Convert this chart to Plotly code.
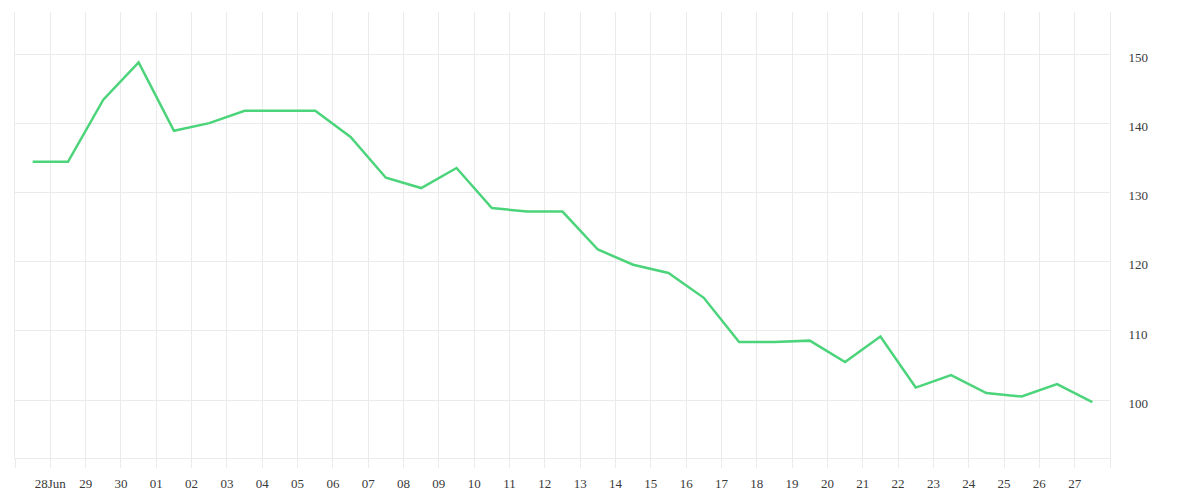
import plotly.graph_objects as go
import pandas as pd

# Data: one value per day (plotted at midday)
dates = pd.date_range("2023-06-27 12:00", "2023-07-27 12:00", freq="D")
values = [134.5, 134.5, 143.5, 148.9, 139.0, 140.1, 141.9, 141.9, 141.9, 138.1,
          132.2, 130.7, 133.6, 127.8, 127.3, 127.3, 121.8, 119.6, 118.4, 114.8,
          108.4, 108.4, 108.6, 105.5, 109.2, 101.8, 103.6, 101.0, 100.5, 102.3, 99.7]

tick_dates = pd.date_range("2023-06-27", "2023-07-28", freq="D")
tick_labels = ["", "28Jun"] + [d.strftime("%d") for d in tick_dates[2:-1]] + [""]
y_ticks = [100, 110, 120, 130, 140, 150]

grid = "#ebebeb"
font = dict(family="Liberation Serif, DejaVu Serif, serif", size=13, color="#3a3a3a")

fig = go.Figure()
fig.add_trace(go.Scatter(x=dates, y=values, mode="lines",
                         line=dict(color="#4cd47b", width=2.5), showlegend=False,
                         hoverinfo="x+y"))

fig.update_layout(
    width=1200, height=500,
    margin=dict(l=15, r=90, t=12, b=42),
    paper_bgcolor="white", plot_bgcolor="white",
    font=font,
    xaxis=dict(range=[tick_dates[0], tick_dates[-1]], tickmode="array",
               tickvals=tick_dates, ticktext=tick_labels,
               showgrid=True, gridcolor=grid, gridwidth=1,
               ticks="outside", ticklen=9, tickcolor=grid, tickwidth=1,
               showline=True, linecolor=grid, linewidth=1, automargin=False,
               zeroline=False, tickfont=font, ticklabelstandoff=4),
    yaxis=dict(range=[91.6, 156.2], side="right", tickmode="array",
               tickvals=y_ticks, showgrid=True, gridcolor=grid, gridwidth=1,
               ticks="", showline=True, mirror=True, linecolor=grid, linewidth=1,
               zeroline=False, tickfont=font, ticklabelstandoff=15,
               ticklabelshift=3, automargin=False),
)

fig.write_html("out.html")
